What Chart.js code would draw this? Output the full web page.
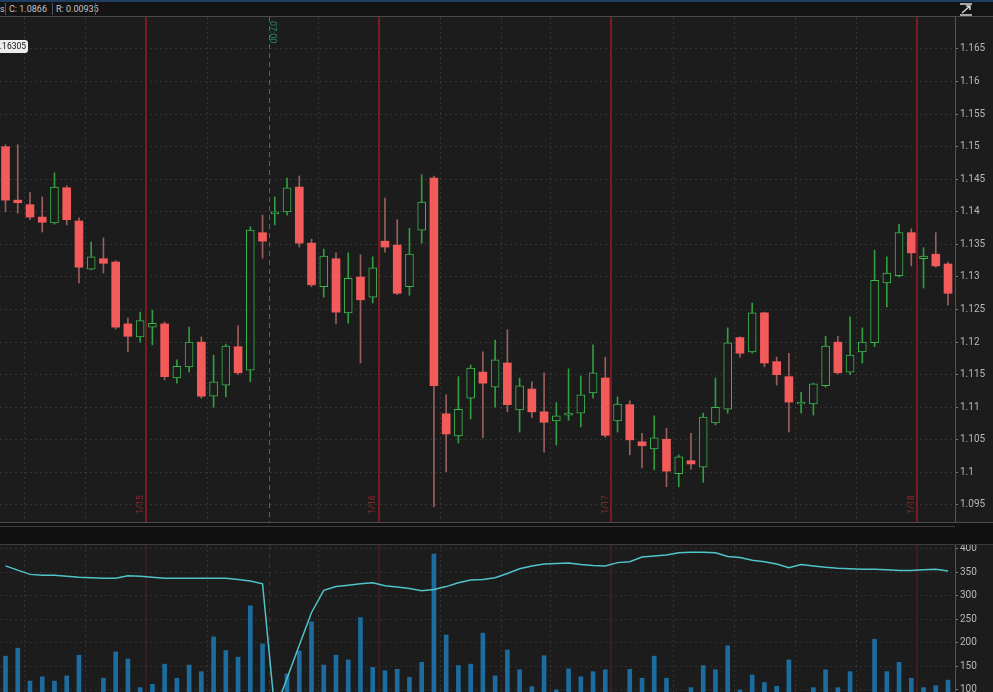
<!DOCTYPE html>
<html><head><meta charset="utf-8">
<script src="https://cdn.jsdelivr.net/npm/chart.js@4.4.0/dist/chart.umd.min.js"></script>
<style>
html,body{margin:0;padding:0;width:993px;height:692px;overflow:hidden;background:#1c1c1c;font-family:Roboto,"DejaVu Sans",sans-serif;}
#hdr{position:absolute;left:0;top:0;width:993px;height:17px;box-sizing:border-box;background:#131313;border-top:2px solid #1e3f60;border-bottom:1px solid #4a4a4a;}
.hs{position:absolute;top:0;height:14px;line-height:14px;font-size:9px;color:#c4c4c4;white-space:nowrap;}
.sep{position:absolute;top:1px;width:1px;height:12px;background:#555;}
#price{position:absolute;left:0;top:17px;}
#vol{position:absolute;left:0;top:545px;}
#band{position:absolute;left:0;top:522px;width:993px;height:23px;box-sizing:border-box;background:#111;border-top:1px solid #4d4d4d;border-bottom:1px solid #3c3c3c;}
#band2{position:absolute;left:0;top:526px;width:955px;height:1px;background:#3d3d3d;}
#bubble{position:absolute;left:-6px;top:40px;width:34px;height:13px;background:#ececec;border-radius:3px;font-size:8.5px;line-height:13px;color:#111;text-align:right;padding-right:2px;box-sizing:border-box;}
#icon{position:absolute;left:959px;top:3px;}
</style></head>
<body>
<div id="hdr">
  <div class="hs" style="left:0px">s</div>
  <div class="sep" style="left:5px"></div>
  <div class="hs" style="left:9px">C: 1.0866</div>
  <div class="sep" style="left:52px"></div>
  <div class="hs" style="left:56px">R: 0.00935</div>
  <div class="sep" style="left:95px"></div>
</div>
<svg id="icon" width="14" height="13" viewBox="0 0 14 13"><path d="M1 1 H13 M1 12 H13 M3 10 L11 3 M7 3 H11 V7" stroke="#d8d8d8" stroke-width="1.4" fill="none"/></svg>
<canvas id="price" width="993" height="505"></canvas>
<div id="band"></div><div id="band2"></div>
<canvas id="vol" width="993" height="192"></canvas>
<div id="bubble">1.16305</div>
<script>
// ---- data ----
const opens  = [1.1500,1.1418,1.1411,1.1392,1.1383,1.1437,1.1386,1.1312,1.1328,1.1323,1.1228,1.1208,1.1223,1.1228,1.1145,1.1162,1.1200,1.1117,1.1134,1.1193,1.1157,1.1368,1.1397,1.1400,1.1438,1.1352,1.1285,1.1328,1.1245,1.1300,1.1269,1.1355,1.1349,1.1285,1.1372,1.1452,1.1090,1.1056,1.1114,1.1154,1.1131,1.1168,1.1096,1.1128,1.1093,1.1079,1.1088,1.1091,1.1122,1.1145,1.1079,1.1104,1.1047,1.1036,1.1051,1.0998,1.1018,1.1008,1.1076,1.1097,1.1207,1.1185,1.1245,1.1170,1.1147,1.1105,1.1105,1.1133,1.1200,1.1154,1.1185,1.1199,1.1291,1.1302,1.1368,1.1328,1.1335,1.1320];
const highs  = [1.1503,1.1503,1.1430,1.1423,1.1460,1.1440,1.1391,1.1354,1.1360,1.1325,1.1237,1.1246,1.1249,1.1231,1.1173,1.1223,1.1208,1.1180,1.1197,1.1225,1.1377,1.1395,1.1423,1.1452,1.1455,1.1358,1.1343,1.1337,1.1337,1.1334,1.1331,1.1421,1.1388,1.1375,1.1457,1.1455,1.1119,1.1147,1.1165,1.1185,1.1203,1.1219,1.1145,1.1139,1.1153,1.1107,1.1159,1.1148,1.1196,1.1177,1.1116,1.1110,1.1060,1.1087,1.1068,1.1027,1.1060,1.1091,1.1145,1.1222,1.1208,1.1260,1.1246,1.1177,1.1183,1.1123,1.1137,1.1209,1.1209,1.1239,1.1222,1.1341,1.1331,1.1381,1.1374,1.1345,1.1368,1.1323];
const lows   = [1.1400,1.1398,1.1388,1.1369,1.1381,1.1380,1.1291,1.1311,1.1306,1.1220,1.1185,1.1200,1.1196,1.1142,1.1137,1.1154,1.1114,1.1100,1.1116,1.1150,1.1139,1.1329,1.1380,1.1395,1.1346,1.1285,1.1269,1.1228,1.1229,1.1168,1.1260,1.1338,1.1273,1.1272,1.1352,1.0947,1.1001,1.1045,1.1082,1.1053,1.1100,1.1093,1.1062,1.1084,1.1031,1.1042,1.1080,1.1070,1.1114,1.1054,1.1062,1.1027,1.1007,1.1004,1.0978,1.0978,1.1005,1.0985,1.1073,1.1091,1.1177,1.1183,1.1162,1.1134,1.1062,1.1091,1.1088,1.1131,1.1151,1.1150,1.1168,1.1193,1.1254,1.1300,1.1317,1.1283,1.1315,1.1257];
const closes = [1.1418,1.1414,1.1392,1.1384,1.1438,1.1388,1.1315,1.1331,1.1321,1.1223,1.1209,1.1233,1.1229,1.1147,1.1163,1.1200,1.1117,1.1139,1.1194,1.1153,1.1372,1.1355,1.1400,1.1437,1.1352,1.1288,1.1332,1.1246,1.1298,1.1265,1.1314,1.1346,1.1275,1.1335,1.1415,1.1133,1.1059,1.1097,1.1160,1.1137,1.1173,1.1104,1.1133,1.1093,1.1077,1.1087,1.1091,1.1119,1.1153,1.1057,1.1105,1.1050,1.1041,1.1053,1.1002,1.1024,1.1013,1.1085,1.1100,1.1199,1.1183,1.1245,1.1168,1.1150,1.1108,1.1108,1.1136,1.1194,1.1153,1.1180,1.1200,1.1295,1.1306,1.1368,1.1337,1.1332,1.1317,1.1275];
const volumes = [172,189,119,128,119,130,174,90,125,181,166,105,112,155,125,153,139,213,184,170,279,198,95,134,183,245,153,174,164,254,148,141,144,127,159,389,217,152,155,221,130,185,143,107,173,100,145,128,139,143,95,144,125,172,125,95,105,152,143,194,100,132,116,108,164,95,105,143,105,139,95,208,139,159,125,105,109,121];
const volLine = [364,355,346,344,344,342,340,339,338,338,343,342,340,338,338,338,338,338,338,335,332,326,55,125,195,265,312,320,323,326,328,322,319,316,311,314,320,328,334,335,339,348,358,364,368,369,370,367,365,364,371,373,383,385,387,392,393,393,392,384,382,376,373,368,360,367,364,361,359,358,357,357,356,354,354,356,357,353];
const priceTicks = [1.095,1.1,1.105,1.11,1.115,1.12,1.125,1.13,1.135,1.14,1.145,1.15,1.155,1.16,1.165];
const priceTickLabels = ['1.095','1.1','1.105','1.11','1.115','1.12','1.125','1.13','1.135','1.14','1.145','1.15','1.155','1.16','1.165'];
const volTicks = [100,150,200,250,300,350,400];
const volTickLabels = ['100','150','200','250','300','350','400'];
const sessionBreaks = [11.5,30.5,49.5,74.5];
const sessionLabels = ['1/15','1/16','1/17','1/18'];
const markerLines = [21.5];
const markerLabels = ['07:00'];
const gridMarks = [1.5,6.5,16.5,25.5,35.5,40.5,44.5,54.5,59.5,64.5,69.5];

// ---- styling ----
const UP = '#3cb54c', UPWICK = '#2f9d40', DOWN = '#f35b5b', DOWNWICK = '#9a5e5e', BG = '#1c1c1c';
const X_MIN = -0.45, X_MAX = 77.57;
const idx = opens.map((_, i) => i);
const isUp = i => closes[i] >= opens[i];

function vlines(showLabels, alpha){
  return {
    id: 'vlines',
    beforeDatasetsDraw(chart){
      const {ctx, chartArea: a, scales: {x}} = chart;
      ctx.save();
      ctx.beginPath(); ctx.rect(a.left, a.top, a.right - a.left, a.bottom - a.top); ctx.clip();
      const draw = (v, color, dash, w) => {
        const px = Math.round(x.getPixelForValue(v)) + (w % 2 ? 0.5 : 0);
        ctx.lineWidth = w;
        ctx.strokeStyle = color; ctx.setLineDash(dash);
        ctx.beginPath(); ctx.moveTo(px, a.top); ctx.lineTo(px, a.bottom); ctx.stroke();
      };
      gridMarks.forEach(v => draw(v, 'rgba(255,255,255,0.10)', [2, 3], 1));
      sessionBreaks.forEach(v => draw(v, 'rgba(120,28,34,' + alpha + ')', [], 2));
      markerLines.forEach(v => draw(v, 'rgba(52,120,88,' + alpha + ')', [5, 4], 1));
      if (showLabels) {
        ctx.setLineDash([]);
        ctx.font = '9px Roboto, sans-serif';
        ctx.textBaseline = 'middle';
        sessionBreaks.forEach((v, k) => {
          const px = x.getPixelForValue(v);
          ctx.save(); ctx.translate(px - 6, a.bottom - 8); ctx.rotate(-Math.PI / 2);
          ctx.fillStyle = '#8e2a2e'; ctx.textAlign = 'left'; ctx.fillText(sessionLabels[k], 0, 0);
          ctx.restore();
        });
        markerLines.forEach((v, k) => {
          const px = x.getPixelForValue(v);
          ctx.save(); ctx.translate(px + 4, a.top + 4); ctx.rotate(Math.PI / 2);
          ctx.fillStyle = '#2f8a62'; ctx.textAlign = 'left'; ctx.fillText(markerLabels[k], 0, 0);
          ctx.restore();
        });
      }
      ctx.restore();
    }
  };
}

const tickFont = {size: 10, family: 'Roboto, "DejaVu Sans", sans-serif'};
const fitAxis = s => { s.width = 38; s.paddingTop = 0; s.paddingBottom = 0; };

new Chart(document.getElementById('price'), {
  type: 'bar',
  data: {
    datasets: [
      {
        label: 'wick',
        data: idx.map(i => ({x: i, y: [lows[i], highs[i]]})),
        backgroundColor: idx.map(i => isUp(i) ? UPWICK : DOWNWICK),
        borderWidth: 0, barThickness: 1, grouped: false, order: 2
      },
      {
        label: 'body',
        data: idx.map(i => ({x: i, y: [opens[i], closes[i]]})),
        backgroundColor: idx.map(i => isUp(i) ? BG : DOWN),
        borderColor: idx.map(i => isUp(i) ? UP : DOWN),
        borderWidth: idx.map(i => isUp(i) ? 1 : 0),
        borderSkipped: false, barThickness: 8, grouped: false, order: 1
      }
    ]
  },
  options: {
    responsive: false, animation: false, maintainAspectRatio: false,
    layout: {padding: 0},
    plugins: {legend: {display: false}, tooltip: {enabled: false}},
    scales: {
      x: {type: 'linear', min: X_MIN, max: X_MAX, display: false, offset: false, grid: {offset: false}},
      y: {
        position: 'right', min: 1.09239, max: 1.16991,
        afterBuildTicks: s => { s.ticks = priceTicks.map(v => ({value: v})); },
        afterFit: fitAxis,
        ticks: {color: '#b8b8b8', font: tickFont, padding: 2, callback: (v, k) => priceTickLabels[k]},
        grid: {color: 'rgba(255,255,255,0.11)', tickColor: '#777', tickLength: 3},
        border: {display: true, color: '#555', dash: [2, 3]}
      }
    }
  },
  plugins: [vlines(true, 1)]
});

new Chart(document.getElementById('vol'), {
  type: 'bar',
  data: {
    datasets: [
      {
        type: 'line', label: 'avg',
        data: idx.map(i => ({x: i, y: volLine[i]})),
        borderColor: '#4fc4c9', borderWidth: 1.5, pointRadius: 0, tension: 0, order: 1
      },
      {
        label: 'volume',
        data: idx.map(i => ({x: i, y: volumes[i]})),
        backgroundColor: '#1c6c9f', borderWidth: 0, barThickness: 4, grouped: false, order: 2
      }
    ]
  },
  options: {
    responsive: false, animation: false, maintainAspectRatio: false,
    layout: {padding: 0},
    plugins: {legend: {display: false}, tooltip: {enabled: false}},
    scales: {
      x: {type: 'linear', min: X_MIN, max: X_MAX, display: false, offset: false, grid: {offset: false}},
      y: {
        position: 'right', min: 0, max: 408.5,
        afterBuildTicks: s => { s.ticks = volTicks.map(v => ({value: v})); },
        afterFit: fitAxis,
        ticks: {color: '#b8b8b8', font: tickFont, padding: 2, callback: (v, k) => volTickLabels[k]},
        grid: {color: 'rgba(255,255,255,0.09)', tickColor: '#777', tickLength: 3},
        border: {display: true, color: '#555', dash: [2, 3]}
      }
    }
  },
  plugins: [vlines(false, 0.4)]
});
</script>
</body></html>
